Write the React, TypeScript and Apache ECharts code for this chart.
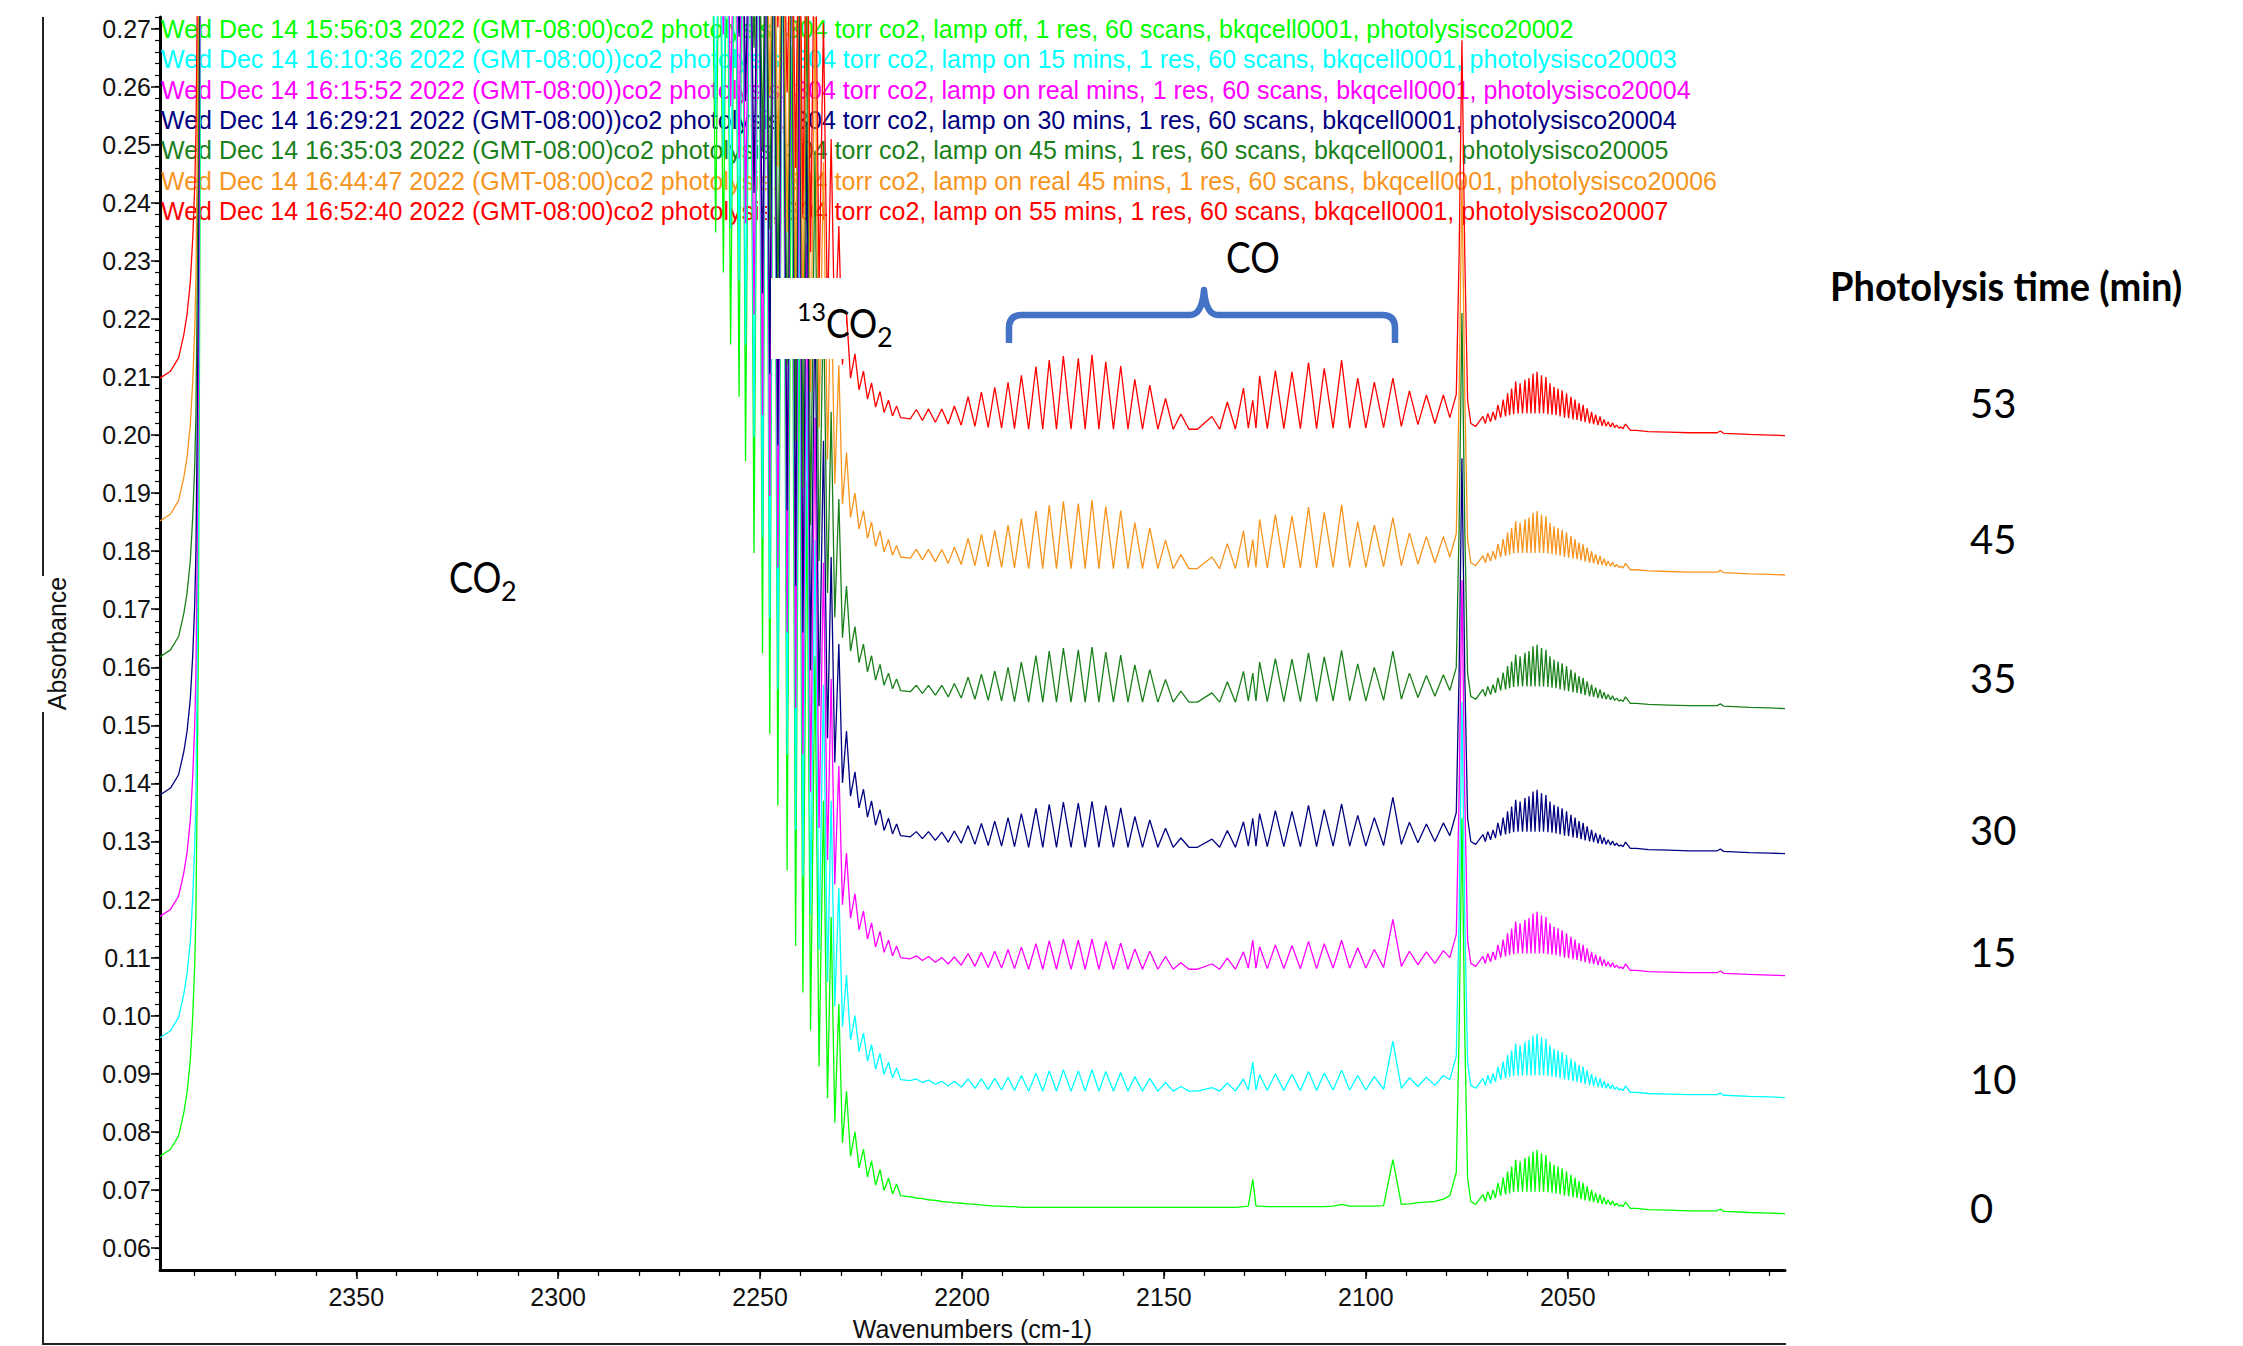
import React, { useEffect, useRef } from "react";
import * as echarts from "echarts";

// Shared wavenumber grid (cm-1) for all seven spectra
const WN = [
  // CO2 band edge (left)
  2398.6, 2396.0, 2394.0, 2392.7, 2391.9, 2391.1, 2390.5, 2390.0, 2389.7, 2389.4, 2389.1, 2388.8, 2388.5, 2388.2,
  2262.0,
  // 13CO2 region
  2261.0, 2260.0, 2259.1, 2258.2, 2257.3, 2256.2, 2255.2, 2254.4, 2253.6, 2252.5, 2251.5, 2250.4, 2249.4, 2248.5,
  2247.6, 2246.6, 2245.6, 2244.4, 2243.3, 2242.2, 2241.2, 2240.3, 2239.4, 2238.4, 2237.5, 2236.4, 2235.4, 2234.3,
  2233.3, 2232.4, 2231.5, 2230.5, 2229.6, 2228.6, 2227.6, 2226.5, 2225.5, 2224.4, 2223.4, 2222.4, 2221.4, 2220.3,
  2219.3, 2218.2, 2217.2, 2216.2, 2215.2,
  // CO R branch
  2212.8, 2211.3, 2209.8, 2208.3, 2206.6, 2205.0, 2203.4, 2201.9, 2200.2, 2198.5, 2196.8, 2195.2, 2193.5, 2191.9,
  2190.2, 2188.6, 2187.0, 2185.3, 2183.5, 2181.7, 2180.0, 2178.4, 2176.6, 2174.9, 2173.0, 2171.2, 2169.5, 2167.8,
  2166.1, 2164.4, 2162.5, 2160.7, 2158.9, 2157.2, 2155.3, 2153.5, 2151.5, 2149.6, 2147.7, 2145.8, 2143.8, 2141.7,
  // CO P branch
  2138.1, 2136.2, 2134.3, 2132.3, 2130.3, 2129.1, 2128.0, 2127.2, 2126.3, 2124.4, 2122.4, 2120.3, 2118.3, 2116.2,
  2114.2, 2112.2, 2110.3, 2108.1, 2106.0, 2104.0, 2102.0, 2100.0, 2097.9, 2095.6, 2093.3, 2091.2, 2089.2, 2087.1,
  2085.0, 2082.9, 2080.8, 2079.2,
  // sharp line
  2077.6, 2076.9, 2076.2, 2075.5, 2074.8, 2074.0,
  // band near 2060
  2072.8, 2071.0, 2070.4, 2069.8, 2069.1, 2068.5, 2067.9, 2067.3, 2066.6, 2066.0, 2065.4, 2064.9, 2064.4, 2063.9,
  2063.4, 2062.9, 2062.3, 2061.8, 2061.2, 2060.6, 2060.1, 2059.6, 2059.1, 2058.6, 2058.1, 2057.6, 2057.0, 2056.5,
  2056.0, 2055.4, 2054.9, 2054.4, 2053.9, 2053.4, 2052.9, 2052.4, 2051.9, 2051.4, 2050.8, 2050.3, 2049.8, 2049.2,
  2048.7, 2048.2, 2047.7, 2047.2, 2046.7, 2046.2, 2045.7, 2045.2, 2044.6, 2044.1, 2043.6, 2043.1, 2042.5, 2042.0,
  2041.5, 2041.0, 2040.5, 2040.0, 2039.4, 2038.9, 2038.4, 2037.9, 2037.3, 2036.8, 2036.3, 2035.7, 2034.5,
  // tail
  2033.0, 2030.0, 2025.0, 2020.0, 2013.0, 2012.2, 2011.4, 2005.0, 2000.0, 1996.2,
];

// Absorbance x 10^4 (3000 = off scale / saturated)
const ABS_0MIN = [
  758, 770, 793, 833, 868, 923, 998, 1088, 1178, 1378, 1658, 2158, 2858, 3000,
  3000,
  2349, 3000, 2280, 3000, 2156, 3000, 2066, 3000, 1955, 3000, 1797, 3000, 1624, 3000, 1485, 3000, 1362, 3000, 1250, 2670,
  1120, 2270, 1040, 1920, 975, 1620, 913, 1370, 858, 1170, 816, 1020, 781, 870, 758, 800, 738, 770, 722, 750,
  708, 735, 699, 720, 693, 710, 690,
  688, 686, 685, 683, 682, 680, 679, 678, 677, 676, 675, 674, 673, 672, 672, 671, 671,
  670, 670, 670, 670, 670, 670, 670, 670, 670, 670, 670, 670, 670, 670, 670, 670, 670, 670, 670, 670, 670, 670, 670, 670, 670,
  670, 670, 670, 670, 671, 672, 718, 672, 672, 671, 671, 671, 671, 671, 671, 671, 671, 672, 675, 672, 672, 672, 672, 673,
  752, 675, 676, 678, 679, 680, 684, 690,
  730, 970, 1340, 970, 720, 680,
  675, 692, 680, 697, 683, 700, 686, 712, 690, 721, 692, 732, 694, 740, 696, 752, 697, 749, 697, 755,
  697, 758, 697, 766, 697, 769, 697, 763, 697, 760, 696, 749, 695, 743, 694, 740, 692, 737, 690, 732,
  689, 726, 687, 721, 686, 715, 684, 712, 682, 706, 680, 700, 679, 695, 677, 692, 676, 687, 675, 683,
  674, 681, 673, 677, 672, 674, 671, 679, 668,
  668, 666, 665, 664, 664, 667, 663, 661, 660, 659,
];

const ABS_10MIN = [
  962, 974, 997, 1037, 1072, 1127, 1202, 1292, 1382, 1582, 1862, 2362, 3000, 3000,
  3000,
  2549, 3000, 2480, 3000, 2356, 3000, 2266, 3000, 2155, 3000, 1997, 3000, 1824, 3000, 1685, 3000, 1562, 3000, 1450, 3000,
  1320, 2470, 1240, 2120, 1175, 1820, 1113, 1570, 1058, 1370, 1016, 1220, 981, 1070, 958, 1000, 938, 970, 922, 950,
  908, 935, 899, 920, 893, 910, 890,
  888, 891, 885, 889, 882, 887, 879, 887, 877, 891, 875, 891, 873, 892, 872, 894, 871, 897, 870, 901,
  870, 905, 870, 907, 870, 905, 870, 907, 870, 904, 870, 902, 870, 895, 870, 892, 870, 885, 870, 878, 870, 870,
  876, 870, 884, 870, 891, 872, 920, 872, 898, 871, 900, 871, 899, 871, 904, 871, 901, 872, 906, 872, 897, 872, 895, 873,
  956, 875, 893, 878, 894, 880, 897, 890,
  930, 1170, 1540, 1170, 920, 880,
  875, 892, 880, 897, 883, 900, 886, 912, 890, 921, 892, 932, 894, 940, 896, 952, 897, 949, 897, 955,
  897, 958, 897, 966, 897, 969, 897, 963, 897, 960, 896, 949, 895, 943, 894, 940, 892, 937, 890, 932,
  889, 926, 887, 921, 886, 915, 884, 912, 882, 906, 880, 900, 879, 895, 877, 892, 876, 887, 875, 883,
  874, 881, 873, 877, 872, 874, 871, 879, 868,
  868, 866, 865, 864, 864, 867, 863, 861, 860, 859,
];

const ABS_15MIN = [
  1171, 1183, 1206, 1246, 1281, 1336, 1411, 1501, 1591, 1791, 2071, 2571, 3000, 3000,
  3000,
  2759, 3000, 2690, 3000, 2566, 3000, 2476, 3000, 2365, 3000, 2207, 3000, 2034, 3000, 1895, 3000, 1772, 3000, 1660, 3000,
  1530, 2680, 1450, 2330, 1385, 2030, 1323, 1780, 1268, 1580, 1226, 1430, 1191, 1280, 1168, 1210, 1148, 1180, 1132, 1160,
  1118, 1145, 1109, 1130, 1103, 1120, 1100,
  1098, 1103, 1095, 1102, 1092, 1100, 1089, 1101, 1087, 1107, 1085, 1109, 1083, 1111, 1082, 1114, 1081, 1118, 1080, 1124,
  1080, 1129, 1080, 1132, 1080, 1130, 1080, 1132, 1080, 1128, 1080, 1125, 1080, 1115, 1080, 1111, 1080, 1102, 1080, 1091,
  1080, 1080,
  1089, 1080, 1099, 1080, 1110, 1082, 1130, 1082, 1119, 1081, 1122, 1081, 1121, 1081, 1128, 1081, 1124, 1082, 1130, 1082,
  1117, 1082, 1114, 1083, 1166, 1085, 1111, 1088, 1110, 1090, 1112, 1100,
  1140, 1380, 1750, 1380, 1130, 1090,
  1085, 1102, 1090, 1107, 1093, 1110, 1096, 1122, 1100, 1131, 1102, 1142, 1104, 1150, 1106, 1162, 1107, 1159, 1107, 1165,
  1107, 1168, 1107, 1176, 1107, 1179, 1107, 1173, 1107, 1170, 1106, 1159, 1105, 1153, 1104, 1150, 1102, 1147, 1100, 1142,
  1099, 1136, 1097, 1131, 1096, 1125, 1094, 1122, 1092, 1116, 1090, 1110, 1089, 1105, 1087, 1102, 1086, 1097, 1085, 1093,
  1084, 1091, 1083, 1087, 1082, 1084, 1081, 1089, 1078,
  1078, 1076, 1075, 1074, 1074, 1077, 1073, 1071, 1070, 1069,
];

const ABS_30MIN = [
  1380, 1392, 1415, 1455, 1490, 1545, 1620, 1710, 1800, 2000, 2280, 2780, 3000, 3000,
  3000,
  2969, 3000, 2900, 3000, 2776, 3000, 2686, 3000, 2575, 3000, 2417, 3000, 2244, 3000, 2105, 3000, 1982, 3000, 1870, 3000,
  1740, 2890, 1660, 2540, 1595, 2240, 1533, 1990, 1478, 1790, 1436, 1640, 1401, 1490, 1378, 1420, 1358, 1390, 1342, 1370,
  1328, 1355, 1319, 1340, 1313, 1330, 1310,
  1308, 1317, 1305, 1317, 1302, 1316, 1299, 1318, 1297, 1327, 1295, 1331, 1293, 1335, 1292, 1341, 1291, 1348, 1290, 1357,
  1290, 1364, 1290, 1368, 1290, 1366, 1290, 1369, 1290, 1362, 1290, 1358, 1290, 1343, 1290, 1337, 1290, 1323, 1290, 1306,
  1290, 1290,
  1304, 1290, 1319, 1290, 1334, 1292, 1340, 1292, 1348, 1291, 1353, 1291, 1352, 1291, 1362, 1291, 1355, 1292, 1365, 1292,
  1345, 1292, 1341, 1293, 1376, 1295, 1333, 1298, 1330, 1300, 1332, 1310,
  1350, 1590, 1960, 1590, 1340, 1300,
  1295, 1312, 1300, 1317, 1303, 1320, 1306, 1332, 1310, 1341, 1312, 1352, 1314, 1360, 1316, 1372, 1317, 1369, 1317, 1375,
  1317, 1378, 1317, 1386, 1317, 1389, 1317, 1383, 1317, 1380, 1316, 1369, 1315, 1363, 1314, 1360, 1312, 1357, 1310, 1352,
  1309, 1346, 1307, 1341, 1306, 1335, 1304, 1332, 1302, 1326, 1300, 1320, 1299, 1315, 1297, 1312, 1296, 1307, 1295, 1303,
  1294, 1301, 1293, 1297, 1292, 1294, 1291, 1299, 1288,
  1288, 1286, 1285, 1284, 1284, 1287, 1283, 1281, 1280, 1279,
];

const ABS_35MIN = [
  1618, 1630, 1653, 1693, 1728, 1783, 1858, 1948, 2038, 2238, 2518, 3000, 3000, 3000,
  3000,
  3000, 3000, 3000, 3000, 3000, 3000, 3000, 3000, 2825, 3000, 2667, 3000, 2494, 3000, 2355, 3000, 2232, 3000, 2120, 3000,
  1990, 3000, 1910, 2790, 1845, 2490, 1783, 2240, 1728, 2040, 1686, 1890, 1651, 1740, 1628, 1670, 1608, 1640, 1592, 1620,
  1578, 1605, 1569, 1590, 1563, 1580, 1560,
  1558, 1569, 1555, 1569, 1552, 1569, 1549, 1572, 1547, 1583, 1545, 1588, 1543, 1594, 1542, 1600, 1541, 1609, 1540, 1620,
  1540, 1628, 1540, 1633, 1540, 1630, 1540, 1635, 1540, 1626, 1540, 1621, 1540, 1604, 1540, 1596, 1540, 1579, 1540, 1559,
  1540, 1540,
  1556, 1540, 1575, 1540, 1593, 1542, 1590, 1542, 1609, 1541, 1615, 1541, 1614, 1541, 1625, 1541, 1618, 1542, 1629, 1542,
  1606, 1542, 1600, 1543, 1628, 1545, 1590, 1548, 1586, 1550, 1587, 1560,
  1600, 1840, 2210, 1840, 1590, 1550,
  1545, 1562, 1550, 1567, 1553, 1570, 1556, 1582, 1560, 1591, 1562, 1602, 1564, 1610, 1566, 1622, 1567, 1619, 1567, 1625,
  1567, 1628, 1567, 1636, 1567, 1639, 1567, 1633, 1567, 1630, 1566, 1619, 1565, 1613, 1564, 1610, 1562, 1607, 1560, 1602,
  1559, 1596, 1557, 1591, 1556, 1585, 1554, 1582, 1552, 1576, 1550, 1570, 1549, 1565, 1547, 1562, 1546, 1557, 1545, 1553,
  1544, 1551, 1543, 1547, 1542, 1544, 1541, 1549, 1538,
  1538, 1536, 1535, 1534, 1534, 1537, 1533, 1531, 1530, 1529,
];

const ABS_45MIN = [
  1852, 1864, 1887, 1927, 1962, 2017, 2092, 2182, 2272, 2472, 2752, 3000, 3000, 3000,
  3000,
  3000, 3000, 3000, 3000, 3000, 3000, 3000, 3000, 3000, 3000, 2897, 3000, 2724, 3000, 2585, 3000, 2462, 3000, 2350, 3000,
  2220, 3000, 2140, 3000, 2075, 2720, 2013, 2470, 1958, 2270, 1916, 2120, 1881, 1970, 1858, 1900, 1838, 1870, 1822, 1850,
  1808, 1835, 1799, 1820, 1793, 1810, 1790,
  1788, 1803, 1785, 1803, 1782, 1803, 1779, 1807, 1777, 1822, 1775, 1829, 1773, 1836, 1772, 1845, 1771, 1856, 1770, 1869,
  1770, 1879, 1770, 1886, 1770, 1882, 1770, 1888, 1770, 1877, 1770, 1870, 1770, 1849, 1770, 1840, 1770, 1819, 1770, 1794,
  1770, 1770,
  1790, 1770, 1813, 1770, 1835, 1772, 1820, 1772, 1855, 1771, 1863, 1771, 1861, 1771, 1876, 1771, 1867, 1772, 1880, 1772,
  1851, 1772, 1845, 1773, 1858, 1775, 1831, 1778, 1825, 1780, 1825, 1790,
  1830, 2070, 2440, 2070, 1820, 1780,
  1775, 1792, 1780, 1797, 1783, 1800, 1786, 1812, 1790, 1821, 1792, 1832, 1794, 1840, 1796, 1852, 1797, 1849, 1797, 1855,
  1797, 1858, 1797, 1866, 1797, 1869, 1797, 1863, 1797, 1860, 1796, 1849, 1795, 1843, 1794, 1840, 1792, 1837, 1790, 1832,
  1789, 1826, 1787, 1821, 1786, 1815, 1784, 1812, 1782, 1806, 1780, 1800, 1779, 1795, 1777, 1792, 1776, 1787, 1775, 1783,
  1774, 1781, 1773, 1777, 1772, 1774, 1771, 1779, 1768,
  1768, 1766, 1765, 1764, 1764, 1767, 1763, 1761, 1760, 1759,
];

const ABS_53MIN = [
  2098, 2110, 2133, 2173, 2208, 2263, 2338, 2428, 2518, 2718, 3000, 3000, 3000, 3000,
  3000,
  3000, 3000, 3000, 3000, 3000, 3000, 3000, 3000, 3000, 3000, 3000, 3000, 2964, 3000, 2825, 3000, 2702, 3000, 2590, 3000,
  2460, 3000, 2380, 3000, 2315, 2960, 2253, 2710, 2198, 2510, 2156, 2360, 2121, 2210, 2098, 2140, 2078, 2110, 2062, 2090,
  2048, 2075, 2039, 2060, 2033, 2050, 2030,
  2028, 2044, 2025, 2045, 2022, 2045, 2019, 2050, 2017, 2066, 2015, 2074, 2013, 2082, 2012, 2091, 2011, 2103, 2010, 2118,
  2010, 2129, 2010, 2136, 2010, 2132, 2010, 2138, 2010, 2126, 2010, 2119, 2010, 2096, 2010, 2086, 2010, 2063, 2010, 2036,
  2010, 2010,
  2032, 2010, 2057, 2010, 2081, 2012, 2060, 2012, 2102, 2011, 2111, 2011, 2109, 2011, 2125, 2011, 2115, 2012, 2129, 2012,
  2098, 2012, 2091, 2013, 2098, 2015, 2076, 2018, 2069, 2020, 2069, 2030,
  2070, 2310, 2680, 2310, 2060, 2020,
  2015, 2032, 2020, 2037, 2023, 2040, 2026, 2052, 2030, 2061, 2032, 2072, 2034, 2080, 2036, 2092, 2037, 2089, 2037, 2095,
  2037, 2098, 2037, 2106, 2037, 2109, 2037, 2103, 2037, 2100, 2036, 2089, 2035, 2083, 2034, 2080, 2032, 2077, 2030, 2072,
  2029, 2066, 2027, 2061, 2026, 2055, 2024, 2052, 2022, 2046, 2020, 2040, 2019, 2035, 2017, 2032, 2016, 2027, 2015, 2023,
  2014, 2021, 2013, 2017, 2012, 2014, 2011, 2019, 2008,
  2008, 2006, 2005, 2004, 2004, 2007, 2003, 2001, 2000, 1999,
];

const SERIES_NAMES = ["0 min", "10 min", "15 min", "30 min", "35 min", "45 min", "53 min"];
const SERIES_COLORS = ["#00ff00", "#00ffff", "#ff00ff", "#000080", "#1a801a", "#f7941d", "#ff0000"];
const SERIES_VALUES = [ABS_0MIN, ABS_10MIN, ABS_15MIN, ABS_30MIN, ABS_35MIN, ABS_45MIN, ABS_53MIN];

const LEGEND_LINES = [
  "Wed Dec 14 15:56:03 2022 (GMT-08:00)co2 photolysis, 304 torr co2, lamp off, 1 res, 60 scans, bkqcell0001, photolysisco20002",
  "Wed Dec 14 16:10:36 2022 (GMT-08:00))co2 photolysis, 304 torr co2, lamp on 15 mins, 1 res, 60 scans, bkqcell0001, photolysisco20003",
  "Wed Dec 14 16:15:52 2022 (GMT-08:00))co2 photolysis, 304 torr co2, lamp on real mins, 1 res, 60 scans, bkqcell0001, photolysisco20004",
  "Wed Dec 14 16:29:21 2022 (GMT-08:00))co2 photolysis, 304 torr co2, lamp on 30 mins, 1 res, 60 scans, bkqcell0001, photolysisco20004",
  "Wed Dec 14 16:35:03 2022 (GMT-08:00)co2 photolysis, 304 torr co2, lamp on 45 mins, 1 res, 60 scans, bkqcell0001, photolysisco20005",
  "Wed Dec 14 16:44:47 2022 (GMT-08:00)co2 photolysis, 304 torr co2, lamp on real 45 mins, 1 res, 60 scans, bkqcell0001, photolysisco20006",
  "Wed Dec 14 16:52:40 2022 (GMT-08:00)co2 photolysis, 304 torr co2, lamp on 55 mins, 1 res, 60 scans, bkqcell0001, photolysisco20007",
];

const TIME_LABELS = ["53", "45", "35", "30", "15", "10", "0"];
const X_TICK_LABELS = [2050, 2100, 2150, 2200, 2250, 2300, 2350];
const Y_TICK_LABELS = [0.06, 0.07, 0.08, 0.09, 0.1, 0.11, 0.12, 0.13, 0.14, 0.15, 0.16, 0.17, 0.18, 0.19, 0.2, 0.21, 0.22, 0.23, 0.24, 0.25, 0.26, 0.27];

const X_MIN = 1996.2;
const X_MAX = 2398.6;
const Y_MIN = 0.0562;
const Y_MAX = 0.272;

const AX_FONT = '"Liberation Sans", Arial, sans-serif';
const CAL_FONT = 'Lato, "Noto Sans", sans-serif';

export default function App() {
  const ref = useRef<HTMLDivElement>(null);

  useEffect(() => {
    const bracketPath =
      "M1009,343 L1009,328 Q1009,315 1022,315 L1190,315 Q1202,315 1204,290 Q1206,315 1218,315 L1382,315 Q1395,315 1395,328 L1395,343";
    echarts.graphic.registerShape("coBracket", echarts.graphic.extendPath(bracketPath, {}) as any);

    const chart = echarts.init(ref.current as HTMLDivElement, null, { renderer: "svg" });

    const xMinor: number[] = [];
    for (let k = 200; k <= 239; k++) xMinor.push(k * 10);
    const yMinor: number[] = [];
    for (let k = 29; k <= 136; k++) yMinor.push(+(k * 0.002).toFixed(3));

    const series = SERIES_VALUES.map((vals, si) => ({
      type: "line",
      name: SERIES_NAMES[si],
      xAxisIndex: 0,
      yAxisIndex: 0,
      data: WN.map((w, i) => [w, vals[i] / 10000]),
      showSymbol: false,
      symbol: "none",
      clip: true,
      silent: true,
      z: 2,
      lineStyle: { color: SERIES_COLORS[si], width: 1.3 },
      itemStyle: { color: SERIES_COLORS[si] },
    }));

    const legendTexts = LEGEND_LINES.map((t, i) => ({
      type: "text",
      x: 161,
      y: 29 + i * 30.3,
      z: 1,
      silent: true,
      style: {
        text: t,
        fill: SERIES_COLORS[i],
        fontSize: 25,
        fontFamily: AX_FONT,
        align: "left",
        verticalAlign: "middle",
      },
    }));

    const timeY = [403, 539, 678, 830, 952, 1079, 1208];
    const timeTexts = TIME_LABELS.map((t, i) => ({
      type: "text",
      x: 1970,
      y: timeY[i],
      z: 100,
      silent: true,
      style: { text: t, fill: "#000", fontSize: 40, fontFamily: CAL_FONT, align: "left", verticalAlign: "middle" },
    }));

    const calText = (text: string, x: number, y: number, size: number, extra: any = {}) => ({
      type: "text",
      x,
      y,
      z: 101,
      silent: true,
      scaleX: extra.scaleX ?? 1,
      style: {
        text,
        fill: "#000",
        fontSize: size,
        fontFamily: CAL_FONT,
        fontWeight: extra.bold ? "bold" : "normal",
        align: "left",
        verticalAlign: "middle",
      },
    });

    const option: any = {
      animation: false,
      backgroundColor: "#ffffff",
      textStyle: { fontFamily: AX_FONT },
      grid: { left: 160, right: 458, top: 17, bottom: 74, containLabel: false },
      xAxis: [
        {
          type: "value",
          position: "bottom",
          inverse: true,
          min: X_MIN,
          max: X_MAX,
          name: "Wavenumbers (cm-1)",
          nameLocation: "middle",
          nameGap: 46,
          nameTextStyle: { fontSize: 25, color: "#111", fontFamily: AX_FONT },
          axisLine: { show: true, lineStyle: { color: "#000", width: 3 } },
          axisTick: { show: true, customValues: X_TICK_LABELS, length: 9, lineStyle: { color: "#000", width: 1.5 } },
          axisLabel: {
            show: true,
            customValues: X_TICK_LABELS,
            formatter: (v: number) => String(Math.round(v)),
            fontSize: 25,
            color: "#111",
            fontFamily: AX_FONT,
            margin: 14,
          },
          splitLine: { show: false },
        },
        {
          type: "value",
          position: "bottom",
          inverse: true,
          min: X_MIN,
          max: X_MAX,
          axisLine: { show: false },
          axisTick: { show: true, customValues: xMinor, length: 6, lineStyle: { color: "#000", width: 1.3 } },
          axisLabel: { show: false },
          splitLine: { show: false },
        },
      ],
      yAxis: [
        {
          type: "value",
          position: "left",
          min: Y_MIN,
          max: Y_MAX,
          name: "Absorbance",
          nameLocation: "middle",
          nameRotate: 90,
          nameGap: 91,
          nameTextStyle: { fontSize: 25, color: "#111", fontFamily: AX_FONT },
          axisLine: { show: true, lineStyle: { color: "#000", width: 3 } },
          axisTick: { show: true, customValues: Y_TICK_LABELS, length: 9, lineStyle: { color: "#000", width: 1.5 } },
          axisLabel: {
            show: true,
            customValues: Y_TICK_LABELS,
            formatter: (v: number) => v.toFixed(2),
            fontSize: 25,
            color: "#111",
            fontFamily: AX_FONT,
            margin: 9,
          },
          splitLine: { show: false },
        },
        {
          type: "value",
          position: "left",
          min: Y_MIN,
          max: Y_MAX,
          axisLine: { show: false },
          axisTick: { show: true, customValues: yMinor, length: 5, lineStyle: { color: "#000", width: 1.2 } },
          axisLabel: { show: false },
          splitLine: { show: false },
        },
      ],
      series,
      graphic: {
        elements: [
          ...legendTexts,
          // frame lines
          { type: "line", z: 50, silent: true, shape: { x1: 43, y1: 17, x2: 43, y2: 576 }, style: { stroke: "#222", lineWidth: 2 } },
          { type: "line", z: 50, silent: true, shape: { x1: 43, y1: 712, x2: 43, y2: 1345 }, style: { stroke: "#222", lineWidth: 2 } },
          { type: "line", z: 50, silent: true, shape: { x1: 42, y1: 1344, x2: 1786, y2: 1344 }, style: { stroke: "#222", lineWidth: 2 } },
          // 13CO2 label box
          { type: "rect", z: 100, silent: true, shape: { x: 771, y: 278, width: 75, height: 81 }, style: { fill: "#ffffff" } },
          calText("13", 797, 311, 25),
          calText("CO", 826, 322, 41, { scaleX: 0.86 }),
          calText("2", 877, 336, 27),
          // CO2 label
          calText("CO", 449, 576, 42, { scaleX: 0.86 }),
          calText("2", 501, 590, 27),
          // CO label and bracket
          calText("CO", 1226, 256, 43, { scaleX: 0.86 }),
          {
            type: "coBracket",
            z: 100,
            silent: true,
            x: 0,
            y: 0,
            style: { fill: "none", stroke: "#4472C4", lineWidth: 6.5, lineJoin: "round", lineCap: "butt" },
          },
          // right legend
          calText("Photolysis time (min)", 1830, 285, 40, { bold: true, scaleX: 0.95 }),
          ...timeTexts,
        ],
      },
    };

    chart.setOption(option);
    return () => {
      chart.dispose();
    };
  }, []);

  return (
    <div
      ref={ref}
      style={{ position: "fixed", left: 0, top: 0, width: 2243, height: 1346, background: "#ffffff" }}
    />
  );
}
